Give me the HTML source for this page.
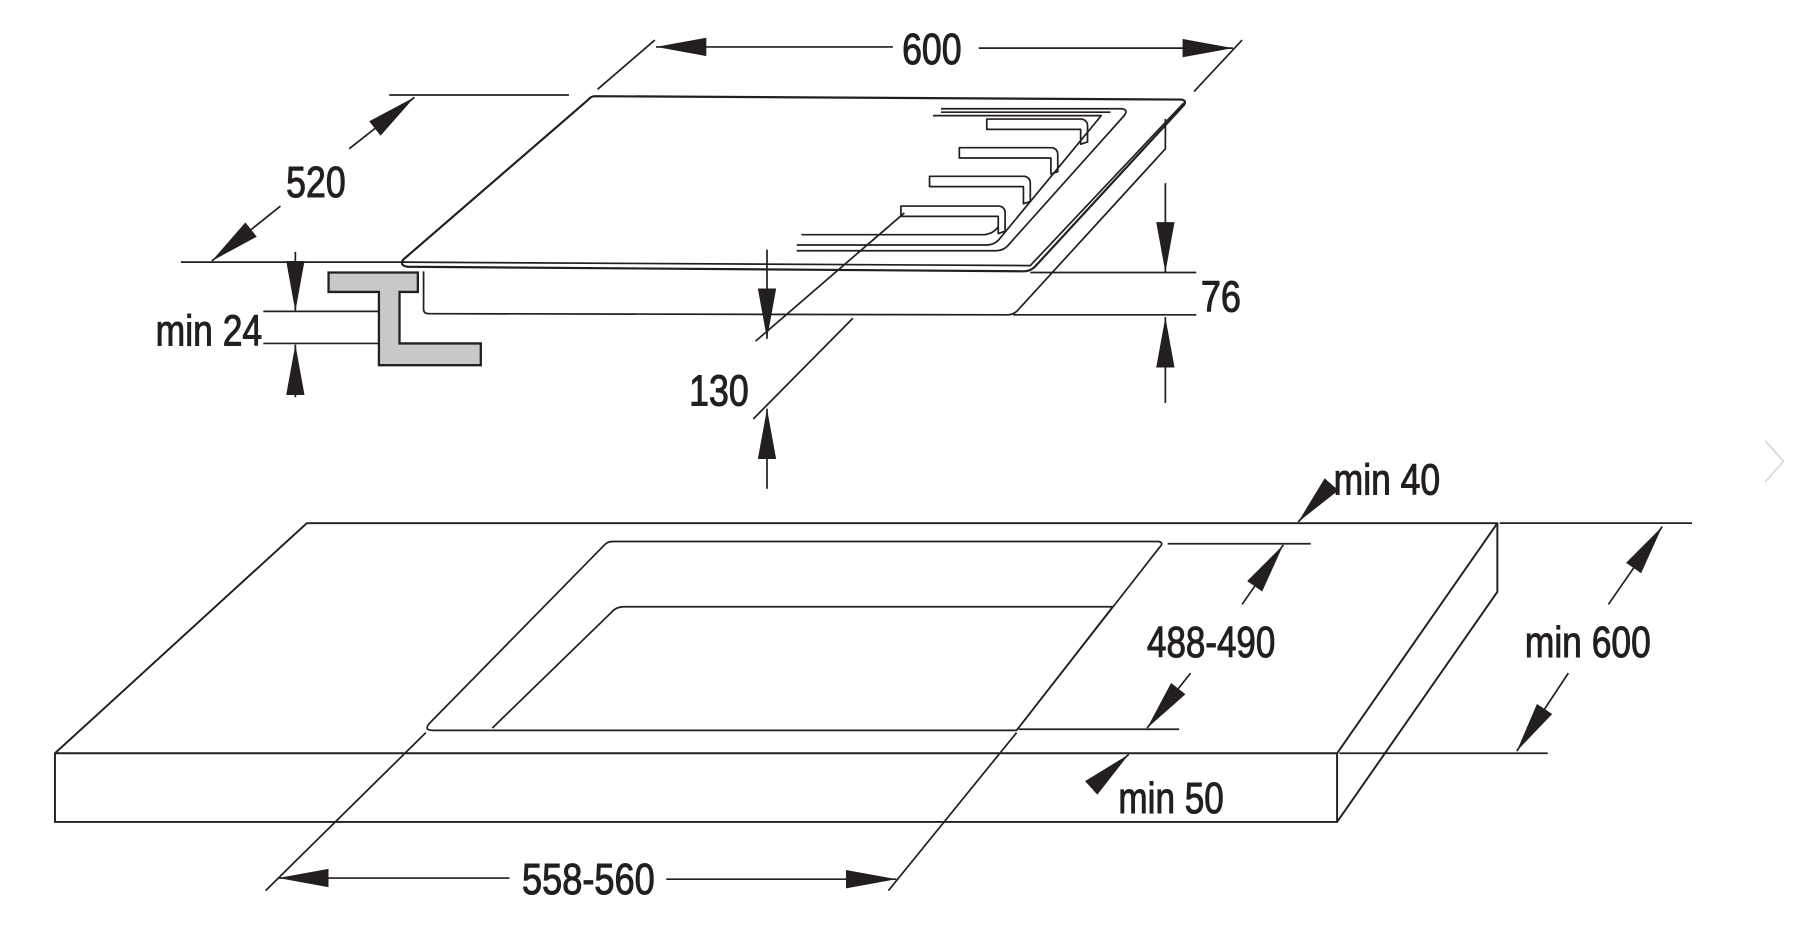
<!DOCTYPE html>
<html><head><meta charset="utf-8"><style>
html,body{margin:0;padding:0;background:#fff;width:1795px;height:933px;overflow:hidden}
svg{display:block}
text{font-family:"Liberation Sans",sans-serif;font-size:38px;fill:#231f20;stroke:#231f20;stroke-width:0.9}
</style></head><body>
<svg width="1795" height="933" viewBox="0 0 1568 815" preserveAspectRatio="none" xmlns="http://www.w3.org/2000/svg">
<defs>
<marker id="a" markerUnits="userSpaceOnUse" markerWidth="48" markerHeight="18" refX="44" refY="8" orient="auto">
<path d="M0,0 L44,8 L0,16 Z" fill="#231f20"/>
</marker>
</defs>
<g fill="none" stroke="#231f20" stroke-width="1.5" stroke-linejoin="round">
<path d="M520,84 L1032,87 Q1037,88 1034,92 L904,233 Q900,237 894,237 L356,233 Q349,232 352,227 L514,87 Q516,84 520,84 Z" stroke-width="1.9"/>
<path d="M352,229 L900,232 L1034,90"/>
<path d="M370,237 L370,270 Q370,274 375,274 L880,275 Q886,275 890,270 L1018,130 L1018,104"/>
<path d="M822,95 L980,95 Q986,96 982,101 L880,215 Q876,219 870,219 L696,219"/>
<path d="M815,101 L962,101 L872,210 Q868,214 862,214 L696,214"/>
<path d="M822,98 L970,98"/>
<path d="M862,104 L945,104 Q950,105 950,110 L950,124 L944,126 L944,113 L862,113 Z"/>
<path d="M838,129 L919,129 Q924,130 924,135 L924,150 L918,152 L918,138 L838,138 Z"/>
<path d="M812,154 L895,154 Q900,155 900,160 L900,176 L894,178 L894,163 L812,163 Z"/>
<path d="M787,180 L873,180 Q878,181 878,186 L878,202 L872,204 L872,189 L787,189 Z"/>
<path d="M700,205 L860,205 Q868,204 872,198"/>
<line x1="522" y1="78" x2="572" y2="35"/>
<line x1="1043" y1="80" x2="1085" y2="35"/>
<line x1="780" y1="41" x2="573" y2="41" marker-end="url(#a)"/>
<line x1="855" y1="42" x2="1077" y2="42" marker-end="url(#a)"/>
<line x1="340" y1="83" x2="497" y2="83"/>
<line x1="158" y1="229" x2="355" y2="229"/>
<line x1="305" y1="130" x2="362" y2="85" marker-end="url(#a)"/>
<line x1="245" y1="180" x2="185" y2="228" marker-end="url(#a)"/>
<line x1="258" y1="220" x2="258" y2="272" marker-end="url(#a)"/>
<line x1="258" y1="347" x2="258" y2="301" marker-end="url(#a)"/>
<line x1="230" y1="272" x2="345" y2="272"/>
<line x1="230" y1="300" x2="332" y2="300"/>
<line x1="790" y1="186" x2="660" y2="298"/>
<line x1="745" y1="278" x2="658" y2="366"/>
<line x1="670" y1="218" x2="670" y2="296" marker-end="url(#a)"/>
<line x1="670" y1="427" x2="670" y2="357" marker-end="url(#a)"/>
<line x1="900" y1="238" x2="1045" y2="238"/>
<line x1="885" y1="275" x2="1045" y2="275"/>
<line x1="1018" y1="160" x2="1018" y2="238" marker-end="url(#a)"/>
<line x1="1018" y1="352" x2="1018" y2="277" marker-end="url(#a)"/>
<path d="M268,457 L1308,457 L1168,658 L48,658 Z" stroke-width="1.7"/>
<path d="M48,658 L48,718 L1168,718 L1168,658 M1168,718 L1308,517 L1308,457" stroke-width="1.7"/>
<path d="M535,473 L1012,473 Q1017,474 1013,478 L888,638 L378,638 Q370,638 375,632 L528,476 Q531,473 535,473 Z"/>
<path d="M545,530 L972,530 L888,638 M545,530 Q538,530 534,535 L430,636"/>
<line x1="1310" y1="457" x2="1478" y2="457"/>
<line x1="1157" y1="430" x2="1134" y2="456" marker-end="url(#a)"/>
<line x1="1020" y1="475" x2="1145" y2="475"/>
<line x1="890" y1="637" x2="1030" y2="637"/>
<line x1="1085" y1="528" x2="1121" y2="476" marker-end="url(#a)"/>
<line x1="1040" y1="588" x2="1002" y2="636" marker-end="url(#a)"/>
<line x1="1170" y1="658" x2="1352" y2="658"/>
<line x1="1405" y1="528" x2="1452" y2="460" marker-end="url(#a)"/>
<line x1="1370" y1="588" x2="1325" y2="656" marker-end="url(#a)"/>
<line x1="958" y1="684" x2="986" y2="659" marker-end="url(#a)"/>
<line x1="372" y1="640" x2="232" y2="778"/>
<line x1="888" y1="640" x2="776" y2="778"/>
<line x1="445" y1="767" x2="243" y2="767" marker-end="url(#a)"/>
<line x1="582" y1="768" x2="783" y2="768" marker-end="url(#a)"/>
</g>
<path d="M287,238 L365,238 L365,255 L349,255 L349,300 L420,300 L420,319 L331,319 L331,255 L287,255 Z" fill="#c8c8c9" stroke="#231f20" stroke-width="2"/>
<path d="M1542,385 L1558,403 L1542,421" fill="none" stroke="#d8d8d8" stroke-width="1.5"/>
<text x="788" y="56" textLength="52" lengthAdjust="spacingAndGlyphs">600</text>
<text x="250" y="172" textLength="52" lengthAdjust="spacingAndGlyphs">520</text>
<text x="136" y="302" textLength="93" lengthAdjust="spacingAndGlyphs">min 24</text>
<text x="602" y="354" textLength="52" lengthAdjust="spacingAndGlyphs">130</text>
<text x="1049" y="272" textLength="35" lengthAdjust="spacingAndGlyphs">76</text>
<text x="1165" y="432" textLength="93" lengthAdjust="spacingAndGlyphs">min 40</text>
<text x="1002" y="574" textLength="112" lengthAdjust="spacingAndGlyphs">488-490</text>
<text x="1332" y="574" textLength="110" lengthAdjust="spacingAndGlyphs">min 600</text>
<text x="977" y="710" textLength="92" lengthAdjust="spacingAndGlyphs">min 50</text>
<text x="456" y="781" textLength="116" lengthAdjust="spacingAndGlyphs">558-560</text>
</svg>
</body></html>
